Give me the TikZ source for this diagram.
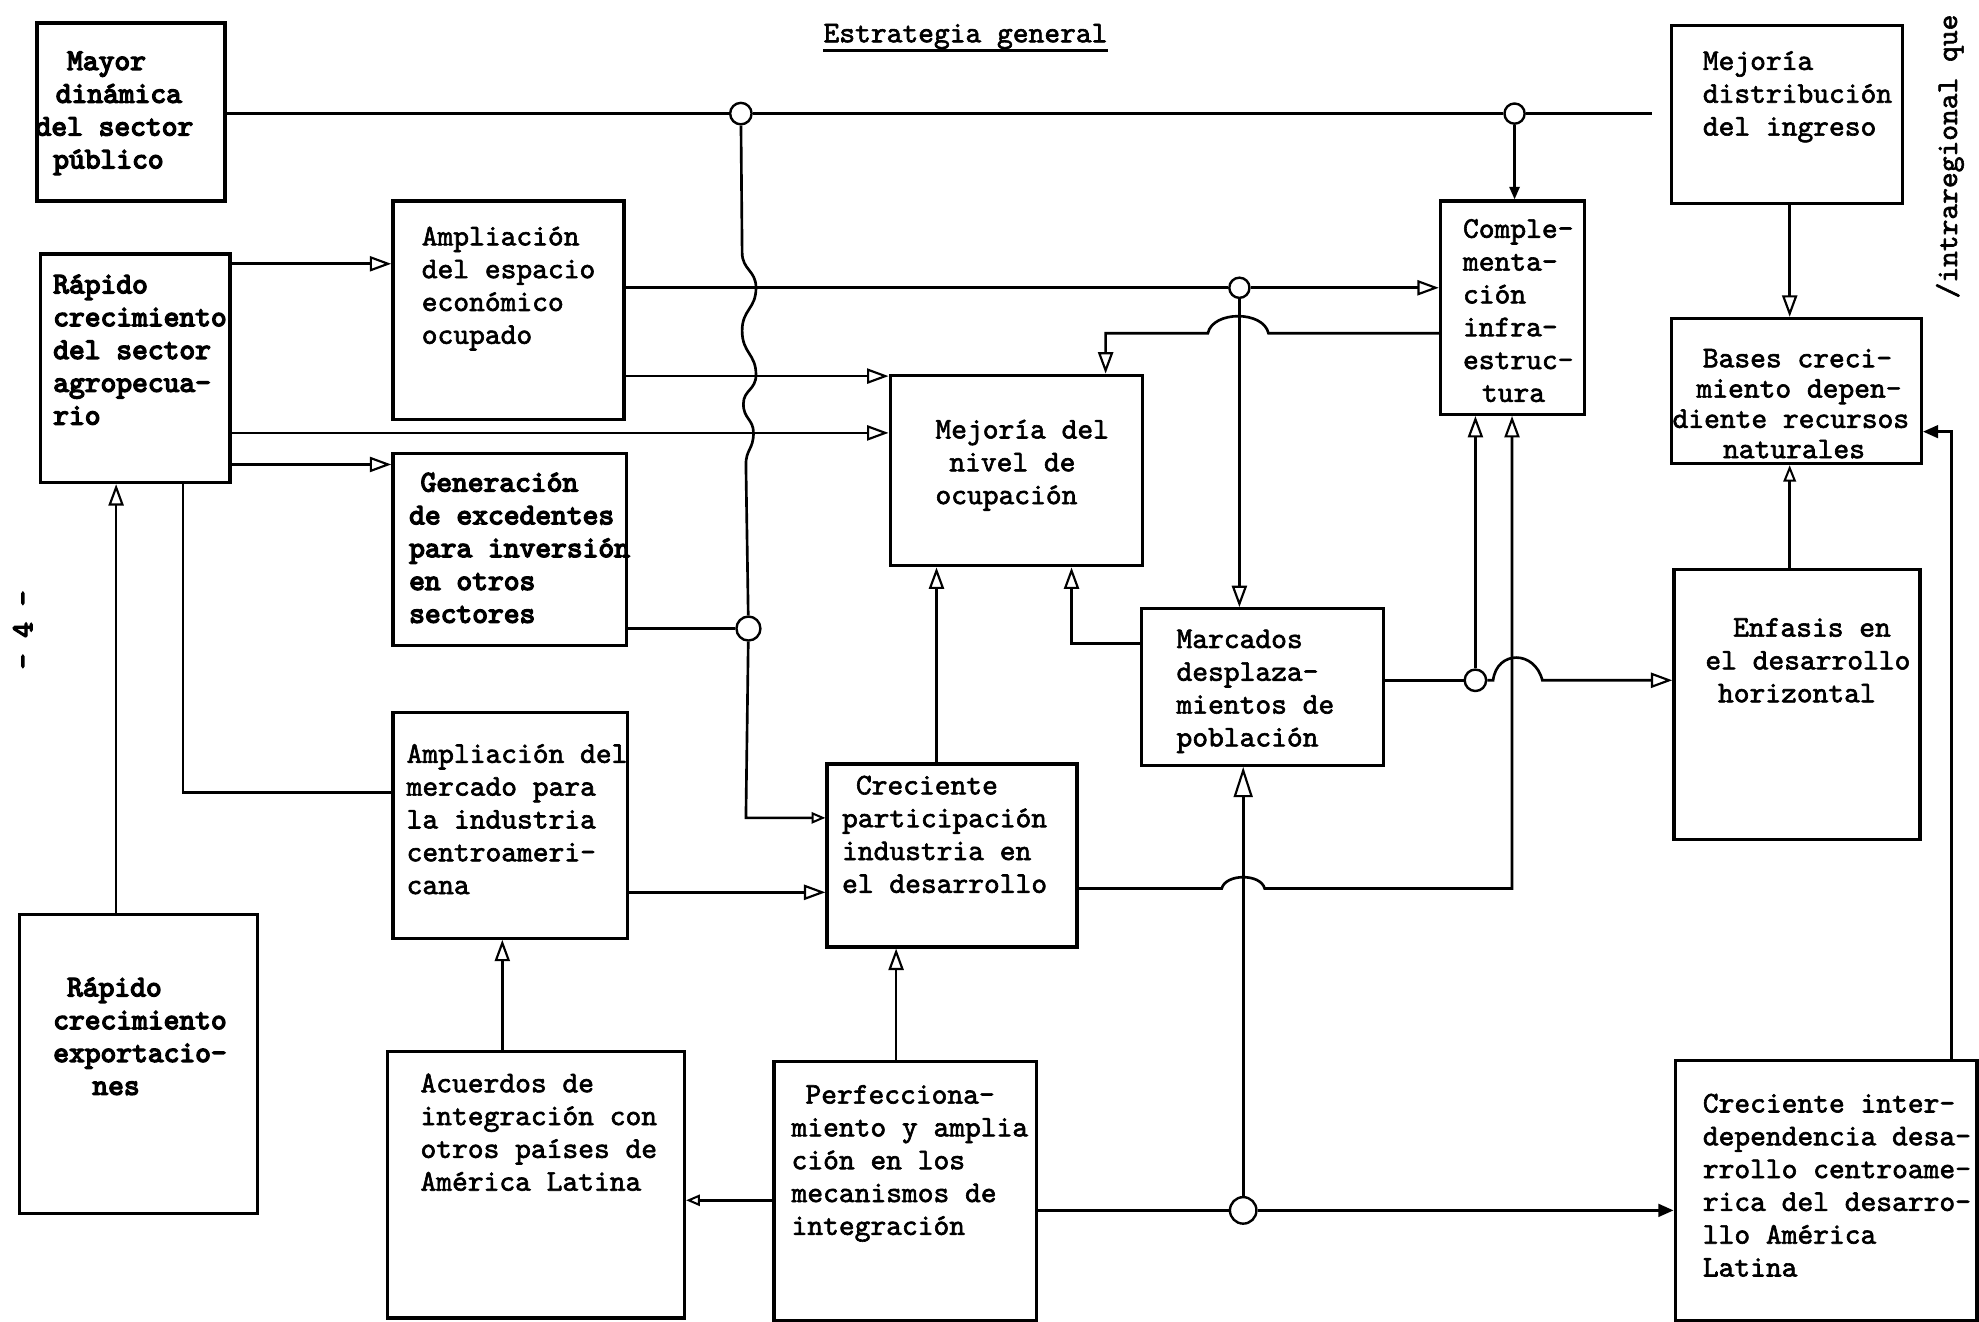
\documentclass[tikz,border=0pt]{standalone}
\usepackage{fontspec}
\usetikzlibrary{arrows.meta}
% typewriter faces: a normal and a heavier strike
\newfontfamily\tw{lmmono10-regular.otf}[FakeBold=2]
\newfontfamily\twb{lmmono10-regular.otf}[FakeBold=4.5]

\tikzset{
  box/.style={draw, line width=2.6pt, inner sep=0pt, anchor=north west},
  txt/.style={anchor=north west, inner sep=0pt, align=left,
              font=\tw\fontsize{23.8}{26}\selectfont},
  btxt/.style={txt, font=\twb\fontsize{23.8}{26}\selectfont},
  ln/.style={line width=2.1pt},
  oarr/.style={ln, -{Triangle[open, length=17pt, width=12pt, line width=1.7pt]}},
  barr/.style={ln, -{Triangle[open, length=24pt, width=15pt, line width=1.7pt]}},
  sarr/.style={ln, -{Triangle[open, length=11pt, width=9pt, line width=1.6pt]}},
  farr/.style={ln, -{Triangle[length=12pt, width=10pt]}},
  jn/.style={circle, draw, line width=1.9pt, fill=white, minimum size=17pt, inner sep=0pt},
}

\begin{document}
\begin{tikzpicture}[x=1pt, y=-1pt]
\fill[white] (0,0) rectangle (1568,1047);
\useasboundingbox (0,0) rectangle (1568,1047);

% ---------- boxes ----------
\node[box, minimum width=149pt, minimum height=141pt] (mayor)     at (28,17)    {};
\node[box, minimum width=150pt, minimum height=181pt] (agro)      at (31,200)   {};
\node[box, minimum width=183pt, minimum height=173pt] (espacio)   at (310,158)  {};
\node[box, minimum width=185pt, minimum height=152pt] (exced)     at (310,358)  {};
\node[box, minimum width=186pt, minimum height=179pt] (mercado)   at (310,563)  {};
\node[box, minimum width=189pt, minimum height=237pt] (export)    at (14,723)   {};
\node[box, minimum width=235pt, minimum height=211pt] (acuerdos)  at (306,832)  {};
\node[box, minimum width=208pt, minimum height=205pt] (perf)      at (612,840)  {};
\node[box, minimum width=198pt, minimum height=145pt] (industria) at (654,604)  {};
\node[box, minimum width=200pt, minimum height=151pt] (ocup)      at (704,296)  {};
\node[box, minimum width=192pt, minimum height=124pt] (despl)     at (903,481)  {};
\node[box, minimum width=114pt, minimum height=169pt] (infra)     at (1140,158) {};
\node[box, minimum width=183pt, minimum height=141pt] (distr)     at (1323,19)  {};
\node[box, minimum width=198pt, minimum height=115pt] (bases)     at (1323,251) {};
\node[box, minimum width=195pt, minimum height=214pt] (enfasis)   at (1325,450) {};
\node[box, minimum width=239pt, minimum height=206pt] (interdep)  at (1326,839) {};

% ---------- box texts ----------
\node[btxt] (mayor-t) at (28,37) {\strut\hspace*{25pt}Mayor\\\hspace*{16pt}dinámica\\del sector\\\hspace*{14pt}público};
\node[btxt] (agro-t) at (42,214) {\strut Rápido\\crecimiento\\del sector\\agropecua-\\rio};
\node[txt] (espacio-t) at (334,176) {\strut Ampliación\\del espacio\\económico\\ocupado};
\node[btxt] (exced-t) at (324,371) {\strut\hspace*{9pt}Generación\\de excedentes\\para inversión\\en otros\\sectores};
\node[txt] (mercado-t) at (322,586) {\strut Ampliación del\\mercado para\\la industria\\centroameri-\\cana};
\node[btxt] (export-t) at (42,771) {\strut\hspace*{11pt}Rápido\\crecimiento\\exportacio-\\\hspace*{31pt}nes};
\node[txt] (acuerdos-t) at (333,847) {\strut Acuerdos de\\integración con\\otros países de\\América Latina};
\node[txt] (perf-t) at (627,856) {\strut\hspace*{11pt}Perfecciona-\\miento y amplia\\ción en los\\mecanismos de\\integración};
\node[txt] (industria-t) at (667,611) {\strut\hspace*{11pt}Creciente\\participación\\industria en\\el desarrollo};
\node[txt] (ocup-t) at (741,329) {\strut Mejoría del\\\hspace*{11pt}nivel de\\ocupación};
\node[txt] (despl-t) at (932,495) {\strut Marcados\\desplaza-\\mientos de\\población};
\node[txt] (infra-t) at (1159,170) {\strut Comple-\\menta-\\ción\\infra-\\estruc-\\\hspace*{15pt}tura};
\node[txt] (distr-t) at (1349,37) {\strut Mejoría\\distribución\\del ingreso};
\node[txt, font=\tw\fontsize{23.8}{24}\selectfont] (bases-t) at (1325,274) {\strut\hspace*{24pt}Bases creci-\\\hspace*{19pt}miento depen-\\diente recursos\\\hspace*{40pt}naturales};
\node[txt] (enfasis-t) at (1351,486) {\strut\hspace*{22pt}Enfasis en\\el desarrollo\\\hspace*{10pt}horizontal};
\node[txt] (interdep-t) at (1349,863) {\strut Creciente inter-\\dependencia desa-\\rrollo centroame-\\rica del desarro-\\llo América\\Latina};

% ---------- title and margin notes ----------
\node[anchor=base, inner sep=0pt, font=\tw\fontsize{23.8}{26}\selectfont] (title) at (765,33.5) {Estrategia general};
\draw[line width=1.8pt] ([yshift=-6.5pt]title.base west) -- ([yshift=-6.5pt]title.base east);
\node[rotate=90, inner sep=0pt, font=\tw\fontsize{23.8}{26}\selectfont] (side) at (1545,124) {/intraregional que};
\node[rotate=90, inner sep=0pt, font=\twb\fontsize{23.8}{26}\selectfont] (pg) at (18,499) {- 4 -};

% ---------- junctions ----------
\node[jn] (c1) at (587,90) {};
\node[jn, minimum size=16pt] (c2) at (1200,90) {};
\node[jn, minimum size=16pt] (c3) at (982,228) {};
\node[jn, minimum size=19pt] (c4) at (593,498) {};
\node[jn, minimum size=17pt] (c5) at (1169,539) {};
\node[jn, minimum size=21pt] (c6) at (985,959) {};

% ---------- connectors ----------
% top line from the public sector box
\draw[ln] (mayor.east |- 0,90) -- (c1);
\draw[ln] (c1) -- (c2);
\draw[ln, shorten >=14pt] (c2) -- (distr.west |- 0,90);
\draw[ln, -{Triangle[length=10pt, width=8pt]}] (c2) -- (infra.north -| c2);

% wavy descent to the industry box
\draw[ln] (c1) -- (588,200)
  .. controls (588,214) and (599,214) .. (599,228)
  .. controls (599,245) and (588,245) .. (588,262)
  .. controls (588,280) and (599,280) .. (599,297)
  .. controls (599,309) and (589,309) .. (589,320)
  .. controls (589,332) and (597,332) .. (597,343)
  .. controls (597,356) and (591,356) .. (591,368) -- (c4);
\draw[sarr] (c4) -- (591,648) -- (industria.west |- 0,648);
\draw[ln] (exced.east |- 0,498) -- (c4);

% from the agricultural sector
\draw[oarr] (agro.east |- 0,209) -- (espacio.west |- 0,209);
\draw[oarr] (agro.east |- 0,343) -- (ocup.west |- 0,343);
\draw[oarr] (agro.east |- 0,368) -- (exced.west |- 0,368);
\draw[ln] (agro.south -| 145,0) -- (145,628) -- (mercado.west |- 0,628);
\draw[oarr] (export.north -| 92,0) -- (agro.south -| 92,0);

% from the occupied economic space
\draw[ln] (espacio.east |- 0,228) -- (c3);
\draw[oarr] (c3) -- (infra.west |- 0,228);
\draw[oarr] (espacio.east |- 0,298) -- (ocup.west |- 0,298);
\draw[oarr] (c3) -- (despl.north -| c3);

% infrastructure back to employment, hopping the vertical
\draw[oarr] (infra.west |- 0,264) -- (1005,264)
  .. controls (1001,246) and (961,246) .. (957,264) -- (876,264) -- (ocup.north -| 876,0);

% market, industry and integration
\draw[oarr] (mercado.east |- 0,707) -- (industria.west |- 0,707);
\draw[oarr] (acuerdos.north -| 398,0) -- (mercado.south -| 398,0);
\draw[oarr] (perf.north -| 710,0) -- (industria.south -| 710,0);
\draw[sarr] (perf.west |- 0,951) -- (acuerdos.east |- 0,951);
\draw[oarr] (industria.north -| 742,0) -- (ocup.south -| 742,0);
\draw[oarr] (industria.east |- 0,704) -- (968,704)
  .. controls (971,692) and (999,692) .. (1002,704) -- (1198,704) -- (infra.south -| 1198,0);

% integration mechanisms to interdependence
\draw[ln] (perf.east |- 0,959) -- (c6);
\draw[farr] (c6) -- (interdep.west |- 0,959);
\draw[barr] (c6) -- (despl.south -| c6);

% population movements
\draw[oarr] (despl.west |- 0,510) -- (849,510) -- (ocup.south -| 849,0);
\draw[ln] (despl.east |- 0,539) -- (c5);
\draw[oarr] (c5) -- (1183,539)
  .. controls (1186,515) and (1216,515) .. (1222,539) -- (enfasis.west |- 0,539);
\draw[oarr] (c5) -- (infra.south -| c5);

% right column
\draw[oarr] (distr.south -| 1418,0) -- (bases.north -| 1418,0);
\draw[ln, -{Triangle[open, length=13pt, width=10pt, line width=1.6pt]}] (enfasis.north -| 1418,0) -- (bases.south -| 1418,0);
\draw[farr] (interdep.north -| 1546,0) -- (1546,342) -- (bases.east |- 0,342);
\end{tikzpicture}
\end{document}
